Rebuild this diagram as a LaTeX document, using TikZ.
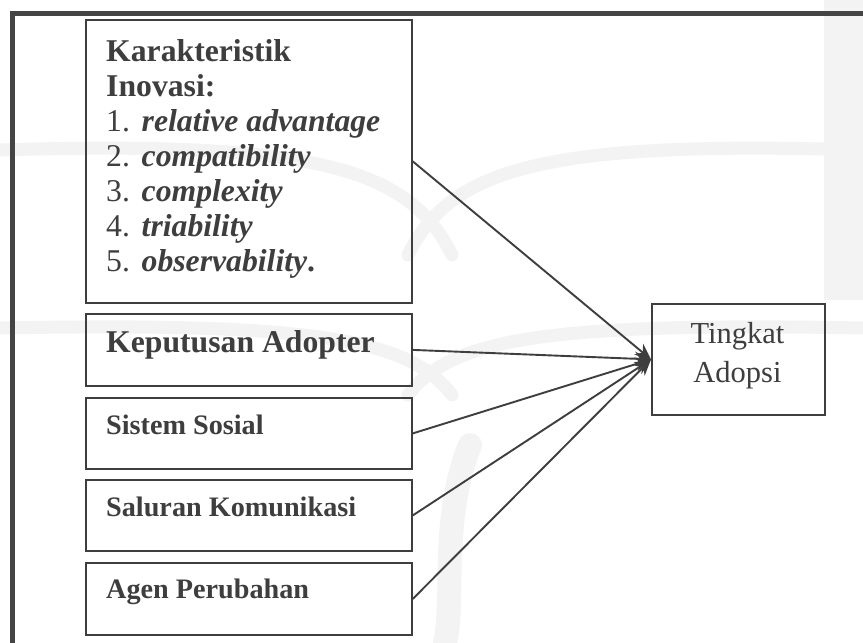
\documentclass[tikz,border=0pt]{standalone}
\usepackage{fontspec}
\setmainfont{Liberation Serif}
\usetikzlibrary{arrows.meta}
\definecolor{ink}{HTML}{3E3E3E}
\definecolor{framecol}{HTML}{444444}
\definecolor{wmark}{HTML}{F3F3F3}
\begin{document}
\begin{tikzpicture}[x=1pt,y=-1pt,
  box/.style={draw=ink, line width=1.8pt, minimum width=326pt,
              anchor=north west, inner sep=0pt},
  headtxt/.style={anchor=base west, inner sep=0pt, text=ink,
                  font=\fontsize{31.7}{35}\selectfont\bfseries},
  itemtxt/.style={anchor=base west, inner sep=0pt, text=ink,
                  font=\fontsize{31.7}{35}\selectfont},
  smalltxt/.style={anchor=base west, inner sep=0pt, text=ink,
                   font=\fontsize{28.2}{33}\selectfont\bfseries},
  outtxt/.style={anchor=base, inner sep=0pt, text=ink,
                 font=\fontsize{30.5}{36}\selectfont},
  conn/.style={draw=ink, line width=1.9pt,
               -{Stealth[length=16pt,width=14pt]}},
  band/.style={draw=wmark, line cap=round}]
\useasboundingbox (0,0) rectangle (863,643);
\fill[white] (0,0) rectangle (863,643);

% faint logo watermark in the background
\fill[wmark] (824,0) rectangle (863,300);
\draw[band, line width=13pt] (408,255) .. controls (450,170) and (540,140) .. (863,150);
\draw[band, line width=13pt] (452,255) .. controls (410,170) and (320,140) .. (0,150);
\draw[band, line width=13pt] (408,395) .. controls (450,340) and (540,322) .. (863,328);
\draw[band, line width=13pt] (452,395) .. controls (410,340) and (320,322) .. (0,328);
\draw[band, line width=24pt] (470,445) .. controls (440,520) and (455,600) .. (445,643);

% outer frame
\draw[framecol, line width=4.5pt] (12.5,643) |- (863,13.5);

% input boxes
\node[box, minimum height=283pt] (kar) at (85,19) {};
\node[box, minimum height=72pt]  (kep) at (85,313) {};
\node[box, minimum height=71pt]  (sis) at (85,397) {};
\node[box, minimum height=71pt]  (sal) at (85,479) {};
\node[box, minimum height=72pt]  (agen) at (85,562) {};

% output box
\node[draw=ink, line width=1.8pt, minimum width=173pt, minimum height=111pt,
      anchor=north west, inner sep=0pt] (tingkat) at (651,303) {};

% texts
\node[headtxt] (k1) at (106,61) {Karakteristik};
\node[headtxt] (k2) at (106,96) {Inovasi:};
\node[itemtxt] (k3) at (106,131) {1.\hspace{0.37em}\textbf{\textit{relative advantage}}};
\node[itemtxt] (k4) at (106,166) {2.\hspace{0.37em}\textbf{\textit{compatibility}}};
\node[itemtxt] (k5) at (106,201) {3.\hspace{0.37em}\textbf{\textit{complexity}}};
\node[itemtxt] (k6) at (106,236) {4.\hspace{0.37em}\textbf{\textit{triability}}};
\node[itemtxt] (k7) at (106,271) {5.\hspace{0.37em}\textbf{\textit{observability}.}};
\node[headtxt] (kept) at (106,352) {Keputusan Adopter};
\node[smalltxt] (sist) at (106,434) {Sistem Sosial};
\node[smalltxt] (salt) at (106,516) {Saluran Komunikasi};
\node[smalltxt] (agent) at (106,598) {Agen Perubahan};
\node[outtxt] (o1) at (737.5,343) {Tingkat};
\node[outtxt] (o2) at (737.5,382) {Adopsi};

% connectors
\draw[conn] (kar.east) -- (tingkat.west);
\draw[conn] (kep.east) -- (tingkat.west);
\draw[conn] (sis.east) -- (tingkat.west);
\draw[conn] (sal.east) -- (tingkat.west);
\draw[conn] (agen.east) -- (tingkat.west);
\end{tikzpicture}
\end{document}
